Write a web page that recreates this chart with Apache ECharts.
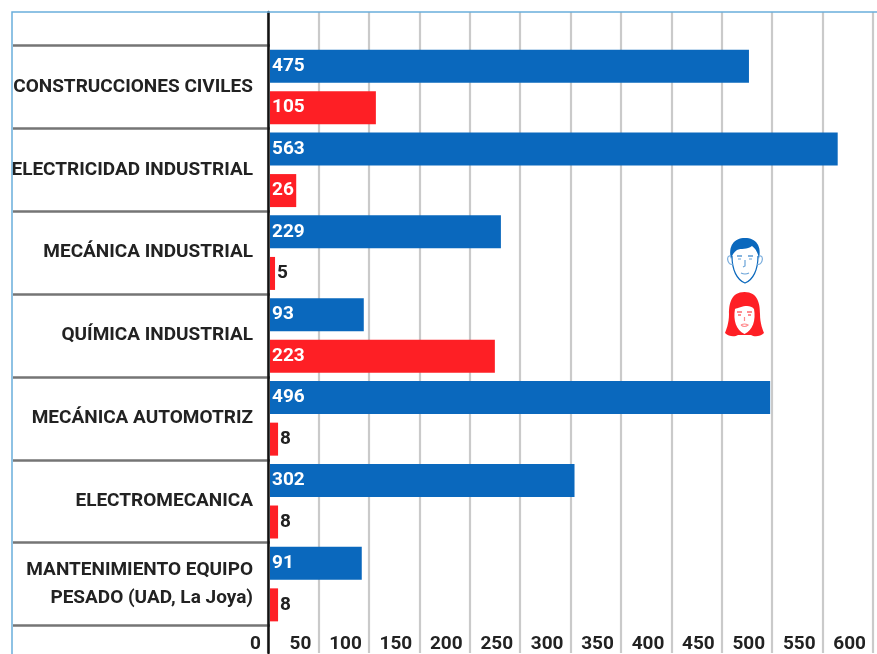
<!DOCTYPE html>
<html>
<head>
<meta charset="utf-8">
<title>Carreras</title>
<script src="https://cdn.jsdelivr.net/npm/echarts@6/dist/echarts.min.js"></script>
<style>
  html, body { margin: 0; padding: 0; background: #fff; }
  #myChart { width: 877px; height: 654px; }
</style>
</head>
<body>
<div id="myChart"></div>
<script>
// datos
const categories = [
  'CONSTRUCCIONES CIVILES',
  'ELECTRICIDAD INDUSTRIAL',
  'MECÁNICA INDUSTRIAL',
  'QUÍMICA INDUSTRIAL',
  'MECÁNICA AUTOMOTRIZ',
  'ELECTROMECANICA',
  'MANTENIMIENTO EQUIPO\nPESADO (UAD, La Joya)'
];
const hombres = [475, 563, 229, 93, 496, 302, 91];
const mujeres = [105, 26, 5, 223, 8, 8, 8];
const xMax = 600;
const xStep = 50;

const BLUE = '#0a68bd';
const RED = '#fe1f25';
const FONT = 'Roboto, sans-serif';

// los valores muy chicos no entran en la barra, van afuera en oscuro
function barData(values) {
  return values.map(v => {
    if (v >= 20) return v;
    return { value: v, label: { position: 'right', distance: 2, color: '#222' } };
  });
}

function barSeries(name, values, color) {
  return {
    name: name,
    type: 'bar',
    xAxisIndex: 1,
    yAxisIndex: 1,
    barWidth: 33,
    barGap: '26%',
    itemStyle: { color: color },
    label: {
      show: true,
      position: 'insideLeft',
      distance: 2,
      color: '#fff',
      fontFamily: FONT,
      fontWeight: 'bold',
      fontSize: 19
    },
    data: barData(values)
  };
}

const malePaths = [
  // pelo
  { d: 'M4 21C1 8 7 0 18 0C29 0 35 8 32 21C31 15 29 11 25 8C20 12 14 10 10 12C7 14 5 17 4 21Z', fill: BLUE },
  // cara
  { d: 'M5 18C5 32 10 42 18 45C26 42 31 32 31 18', stroke: BLUE },
  { d: 'M4 18C1 17 0 20 1 23C2 26 4 27 6 26', stroke: '#7fb0de' },
  { d: 'M32 18C35 17 36 20 35 23C34 26 32 27 30 26', stroke: '#7fb0de' },
  { d: 'M10 18H15M21 18H26', stroke: BLUE },
  { d: 'M11 21H14M22 21H25M18 22V28L16 29M14 35Q18 37 22 35', stroke: '#6aa3d8' }
];
const femalePaths = [
  { d: 'M19.5 0C6 0 4 12 4 22C4 32 1 38 0 41C4 45 10 45 13 43L26 43C29 45 35 45 39 41C38 38 35 32 35 22C35 12 33 0 19.5 0Z', fill: RED },
  { d: 'M10 17C14 16 24 11 29 17C31 28 28 38 19.5 42C11 38 8 28 10 17Z', fill: '#fff' },
  { d: 'M12 20H17M22 20H27M13 23H16M23 23H26', stroke: RED },
  { d: 'M19.5 25V29M16 33Q19.5 31 23 33Q19.5 36 16 33', stroke: '#ff8a8d' }
];

// graphic no acepta type path, hay que registrar cada forma
let shapeCount = 0;
function face(x, y, paths) {
  return {
    type: 'group',
    x: x,
    y: y,
    children: paths.map(p => {
      const name = 'facePath' + shapeCount++;
      echarts.graphic.registerShape(name, echarts.graphic.extendPath(p.d, {}));
      return {
        type: name,
        style: { fill: p.fill || 'none', stroke: p.stroke || 'none', lineWidth: 1.2 }
      };
    })
  };
}

const option = {
  animation: false,
  backgroundColor: '#fff',
  grid: [
    // grilla de fondo, ocupa todo el alto
    { left: 268, top: 12, width: 605, height: 642 },
    // barras y filas de carreras
    { left: 270, top: 45.5, width: 605, height: 580 }
  ],
  xAxis: [
    {
      gridIndex: 0,
      type: 'value',
      min: 0,
      max: xMax,
      interval: xStep,
      axisLine: { show: false },
      axisTick: { show: false },
      splitLine: { show: true, lineStyle: { color: '#cacaca', width: 2.2 } },
      axisLabel: {
        inside: true,
        margin: -1,
        align: 'right',
        padding: [0, 7, 0, 0],
        color: '#222',
        fontFamily: FONT,
        fontWeight: 'bold',
        fontSize: 19
      }
    },
    { gridIndex: 1, type: 'value', min: 0, max: xMax, show: false }
  ],
  yAxis: [
    {
      gridIndex: 0,
      type: 'value',
      min: 0,
      max: 1,
      z: 5,
      axisLine: { show: true, lineStyle: { color: '#111', width: 2.5 } },
      axisTick: { show: false },
      axisLabel: { show: false },
      splitLine: { show: false }
    },
    {
      gridIndex: 1,
      type: 'category',
      inverse: true,
      data: categories,
      offset: 2,
      axisLine: { show: false },
      axisTick: { show: true, length: 257, lineStyle: { color: '#757575', width: 2.5 } },
      axisLabel: {
        margin: 15,
        align: 'right',
        padding: [2, 0, 0, 0],
        color: '#222',
        fontFamily: FONT,
        fontWeight: 'bold',
        fontSize: 19,
        lineHeight: 28
      }
    }
  ],
  series: [
    barSeries('Hombres', hombres, BLUE),
    barSeries('Mujeres', mujeres, RED)
  ],
  graphic: [
    // marco celeste
    {
      type: 'rect',
      shape: { x: 12, y: 12, width: 900, height: 700 },
      style: { fill: 'none', stroke: '#6aaedb', lineWidth: 1.5 },
      z: 10
    },
    face(727, 238, malePaths),
    face(725, 292, femalePaths)
  ]
};

const myChart = echarts.init(document.getElementById('myChart'));
myChart.setOption(option);
</script>
</body>
</html>
